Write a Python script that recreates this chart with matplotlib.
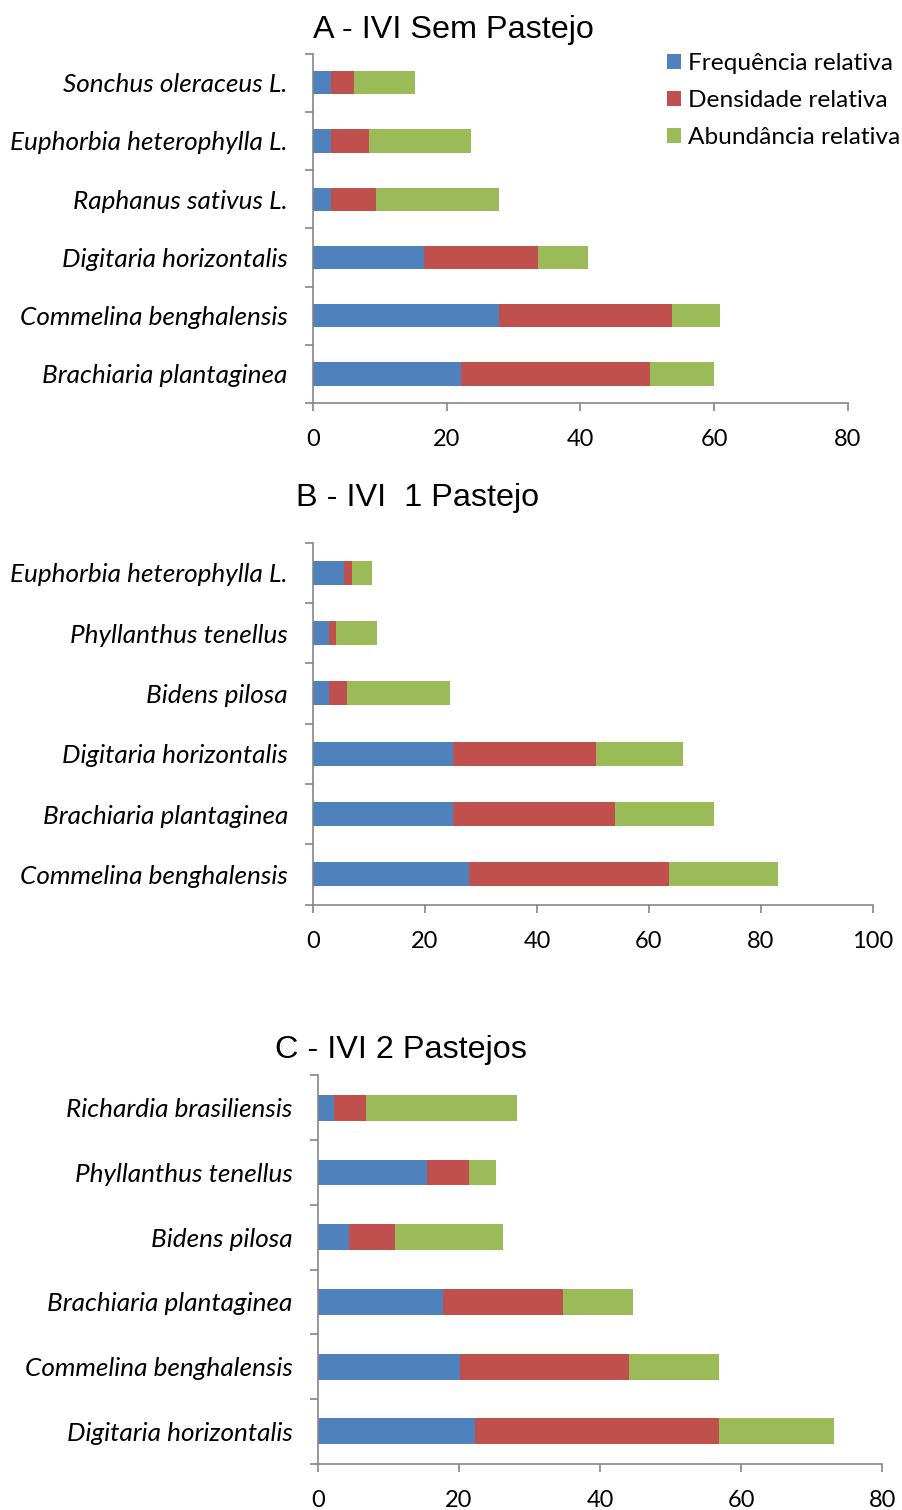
import matplotlib
matplotlib.use("Agg")
import matplotlib.pyplot as plt
import numpy as np

# Importance value index (IVI) components per species, listed top to bottom
species_a = ["Sonchus oleraceus L.", "Euphorbia heterophylla L.", "Raphanus sativus L.",
             "Digitaria horizontalis", "Commelina benghalensis", "Brachiaria plantaginea"]
freq_a = [2.8, 2.8, 2.8, 16.7, 27.8, 22.2]
dens_a = [3.4, 5.6, 6.7, 16.9, 25.9, 28.2]
abun_a = [9.1, 15.2, 18.3, 7.6, 7.1, 9.6]

species_b = ["Euphorbia heterophylla L.", "Phyllanthus tenellus", "Bidens pilosa",
             "Digitaria horizontalis", "Brachiaria plantaginea", "Commelina benghalensis"]
freq_b = [5.6, 2.8, 2.8, 25.0, 25.0, 27.8]
dens_b = [1.3, 1.3, 3.3, 25.6, 29.0, 35.7]
abun_b = [3.7, 7.4, 18.4, 15.5, 17.6, 19.5]

species_c = ["Richardia brasiliensis", "Phyllanthus tenellus", "Bidens pilosa",
             "Brachiaria plantaginea", "Commelina benghalensis", "Digitaria horizontalis"]
freq_c = [2.3, 15.5, 4.5, 17.8, 20.1, 22.3]
dens_c = [4.5, 5.9, 6.5, 17.0, 24.0, 34.6]
abun_c = [21.5, 3.9, 15.3, 9.9, 12.7, 16.2]

series_names = ["Frequência relativa", "Densidade relativa", "Abundância relativa"]
series_colors = ["#4F81BD", "#C0504D", "#9BBB59"]

titles = ["A - IVI Sem Pastejo", "B - IVI  1 Pastejo", "C - IVI 2 Pastejos"]
xmax = [80, 100, 80]

W, H = 903, 1510
fig = plt.figure(figsize=(W / 100, H / 100), dpi=100)

AXIS_GRAY = "#868686"
LABEL_FONT = "Lato"
TITLE_FONT = "Liberation Sans"


def px_axes(left, top, right, bottom):
    return fig.add_axes([left / W, 1 - bottom / H, (right - left) / W, (bottom - top) / H])


def draw_panel(ax, names, f, d, a, xm, title, title_xy):
    y = np.arange(len(names))
    left = np.zeros(len(names))
    for vals, color, label in zip((f, d, a), series_colors, series_names):
        vals = np.asarray(vals)
        ax.barh(y, vals, left=left, height=0.4, color=color, label=label, linewidth=0)
        left = left + vals
    ax.set_ylim(len(names) - 0.5, -0.5)
    ax.set_xlim(0, xm)
    ax.set_xticks(np.arange(0, xm + 1, 20))
    ax.set_yticks(y)
    ax.set_yticklabels(names, fontfamily=LABEL_FONT, fontstyle="italic", fontsize=18.8)
    ax.set_yticks(np.arange(-0.5, len(names)), minor=True)
    ax.tick_params(axis="y", which="major", length=0, pad=18)
    ax.tick_params(axis="y", which="minor", length=6, width=1.2, color=AXIS_GRAY, direction="out")
    ax.tick_params(axis="x", which="major", length=6, width=1.2, color=AXIS_GRAY,
                   direction="out", labelsize=17, pad=13)
    for lab in ax.get_xticklabels():
        lab.set_fontfamily(LABEL_FONT)
    for side in ("top", "right"):
        ax.spines[side].set_visible(False)
    for side in ("left", "bottom"):
        ax.spines[side].set_color(AXIS_GRAY)
        ax.spines[side].set_linewidth(1.2)
    fig.text(title_xy[0] / W, 1 - title_xy[1] / H, title, fontfamily=TITLE_FONT,
             fontsize=23.3, ha="center", va="center")


ax_a = px_axes(312.7, 53.6, 848, 403)
draw_panel(ax_a, species_a, freq_a, dens_a, abun_a, xmax[0], titles[0], (453, 30))

ax_b = px_axes(313, 542.5, 873, 904.5)
draw_panel(ax_b, species_b, freq_b, dens_b, abun_b, xmax[1], titles[1], (418, 498))

ax_c = px_axes(317.7, 1075.4, 882.5, 1463.7)
draw_panel(ax_c, species_c, freq_c, dens_c, abun_c, xmax[2], titles[2], (401, 1050))

handles, labels = ax_a.get_legend_handles_labels()
fig.legend(handles, labels, loc="upper left", bbox_to_anchor=(667 / W, 1 - 53 / H),
           frameon=False, prop={"family": LABEL_FONT, "size": 17.6},
           handlelength=0.58, handleheight=0.58, handletextpad=0.29,
           labelspacing=0.66, borderaxespad=0, borderpad=0)

fig.savefig("out.png", dpi=100)
